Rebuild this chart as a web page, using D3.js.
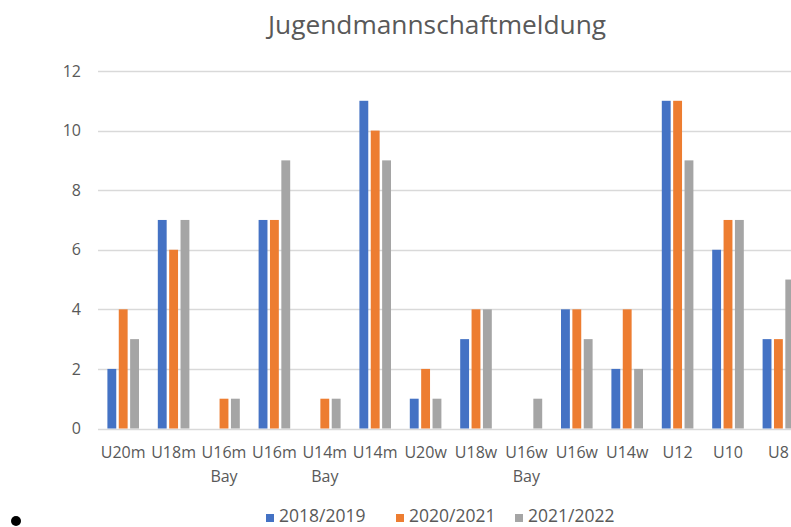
<!DOCTYPE html>
<html>
<head>
<meta charset="utf-8">
<script src="https://cdn.jsdelivr.net/npm/d3@7"></script>
<style>
  body { margin: 0; background: #fff; }
  svg { display: block; font-family: "Open Sans", sans-serif; }
  .axis path, .axis line { display: none; }
  .axis text { fill: #595959; font-size: 16px; font-family: "Open Sans", sans-serif; }
</style>
</head>
<body>
<script>
// chart size
var w = 791;
var h = 527;

// data
var categories = ["U20m", "U18m", "U16m Bay", "U16m", "U14m Bay", "U14m", "U20w",
  "U18w", "U16w Bay", "U16w", "U14w", "U12", "U10", "U8"];
var seasons = ["2018/2019", "2020/2021", "2021/2022"];
var season1819 = [2, 7, 0, 7, 0, 11, 1, 3, 0, 4, 2, 11, 6, 3];
var season2021 = [4, 6, 1, 7, 1, 10, 2, 4, 0, 4, 4, 11, 7, 3];
var season2122 = [3, 7, 1, 9, 1, 9, 1, 4, 1, 3, 2, 9, 7, 5];
var yTicks = [0, 2, 4, 6, 8, 10, 12];
var colors = ["#4472C4", "#ED7D31", "#A5A5A5"];

var seriesValues = [season1819, season2021, season2122];
var rows = categories.map(function(c, i) {
  return {
    cat: c,
    vals: seasons.map(function(s, j) { return { season: s, value: seriesValues[j][i] }; })
  };
});

// scales (plot runs past the right edge, like the source picture)
var left = 98, step = 50.4;
var xScale = d3.scaleBand()
  .domain(categories)
  .range([left, left + step * categories.length])
  .paddingInner(0.373)
  .paddingOuter(0.1865);

var xInner = d3.scaleBand()
  .domain(seasons)
  .range([0, xScale.bandwidth()])
  .paddingInner(0.22);

var yScale = d3.scaleLinear()
  .domain([0, 12])
  .range([428.5, 71]);

var color = d3.scaleOrdinal().domain(seasons).range(colors);

var svg = d3.select("body")
  .append("svg")
  .attr("width", w)
  .attr("height", h);

// title
svg.append("text")
  .attr("x", 437)
  .attr("y", 34)
  .attr("text-anchor", "middle")
  .attr("fill", "#595959")
  .style("font-size", "26.3px")
  .text("Jugendmannschaftmeldung");

// gridlines
svg.append("g")
  .selectAll("line")
  .data(yTicks)
  .enter()
  .append("line")
  .attr("x1", left)
  .attr("x2", w)
  .attr("y1", function(d) { return Math.round(yScale(d)) + 0.5; })
  .attr("y2", function(d) { return Math.round(yScale(d)) + 0.5; })
  .attr("stroke", "#d9d9d9")
  .attr("stroke-width", 1.3);

// y axis labels
var yAxis = d3.axisLeft(yScale).tickValues(yTicks).tickSize(0).tickPadding(0);
svg.append("g")
  .attr("class", "y axis")
  .attr("transform", "translate(81,0)")
  .call(yAxis);

// bars
var groups = svg.append("g")
  .selectAll("g")
  .data(rows)
  .enter()
  .append("g")
  .attr("transform", function(d) { return "translate(" + xScale(d.cat) + ",0)"; });

groups.selectAll("rect")
  .data(function(d) { return d.vals; })
  .enter()
  .append("rect")
  .attr("x", function(d) { return xInner(d.season); })
  .attr("y", function(d) { return yScale(d.value); })
  .attr("width", xInner.bandwidth())
  .attr("height", function(d) { return yScale(0) - yScale(d.value); })
  .attr("fill", function(d) { return color(d.season); });

// x axis labels, two lines where needed
var xAxis = d3.axisBottom(xScale).tickSize(0).tickPadding(0);
var gx = svg.append("g")
  .attr("class", "x axis")
  .attr("transform", "translate(0,447)")
  .call(xAxis);

gx.selectAll(".tick text")
  .each(function(d) {
    var t = d3.select(this);
    var parts = d.split(" ");
    t.text(null);
    parts.forEach(function(p, i) {
      t.append("tspan")
        .attr("x", 0)
        .attr("dy", i === 0 ? "0.71em" : "1.45em")
        .text(p);
    });
  });

// legend (kept just inside the bottom edge)
var legendX = [266, 396, 515];
var legend = svg.append("g")
  .selectAll("g")
  .data(seasons)
  .enter()
  .append("g")
  .attr("transform", function(d, i) { return "translate(" + legendX[i] + ",510)"; });

legend.append("rect")
  .attr("y", 4)
  .attr("width", 8)
  .attr("height", 8)
  .attr("fill", function(d) { return color(d); });

legend.append("text")
  .attr("x", 13)
  .attr("y", 12)
  .attr("fill", "#595959")
  .style("font-size", "17.5px")
  .text(function(d) { return d; });

// stray bullet at bottom left
svg.append("circle")
  .attr("cx", 16)
  .attr("cy", 521)
  .attr("r", 5)
  .attr("fill", "#000");
</script>
</body>
</html>
